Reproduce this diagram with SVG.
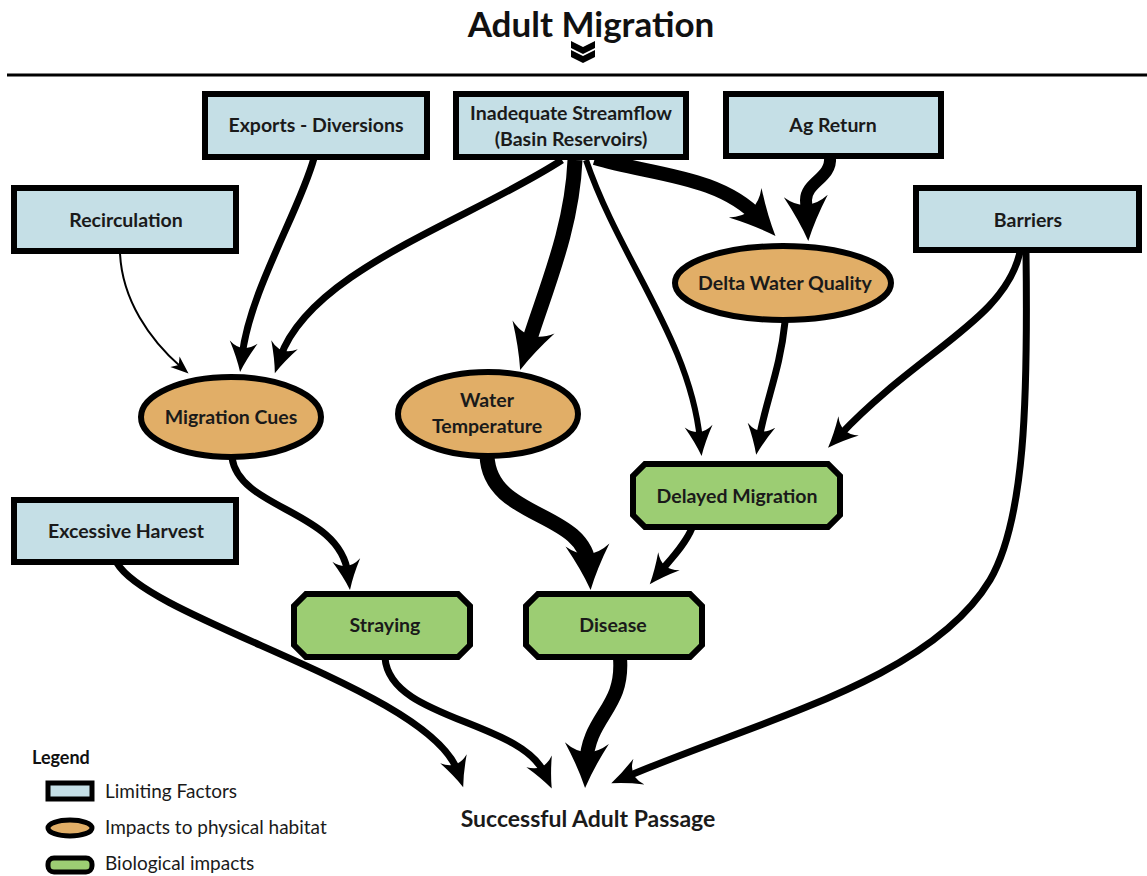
<svg xmlns="http://www.w3.org/2000/svg" width="1147" height="876" viewBox="0 0 1147 876">
<style>
.box{fill:#c5dfe6;stroke:#000;stroke-width:6}
.ell{fill:#e1ae67;stroke:#000;stroke-width:6}
.oct{fill:#9ccd73;stroke:#000;stroke-width:6;stroke-linejoin:miter}
.lbl{font-family:Lato,"Liberation Sans",sans-serif;font-weight:700;font-size:19.5px;fill:#1a1a1a;text-anchor:middle}
.leg{font-family:Lato,"Liberation Sans",sans-serif;font-size:19px;fill:#1a1a1a}
.c{fill:none;stroke:#000;stroke-linecap:butt}
.w2{stroke-width:2}
.w7{stroke-width:7}
.w14{stroke-width:14}
</style>
<defs>
<marker id="aS" markerUnits="userSpaceOnUse" markerWidth="30" markerHeight="30" refX="8" refY="0" orient="auto" overflow="visible">
<path d="M0,-7 L18,0 L0,7 L5,0 Z" fill="#000"/>
</marker>
<marker id="aM" markerUnits="userSpaceOnUse" markerWidth="40" markerHeight="40" refX="14" refY="0" orient="auto" overflow="visible">
<path d="M0,-14 Q16,-5 30,0 Q16,5 0,14 Q12,0 0,-14 Z" fill="#000"/>
</marker>
<marker id="aL" markerUnits="userSpaceOnUse" markerWidth="60" markerHeight="60" refX="22" refY="0" orient="auto" overflow="visible">
<path d="M0,-22 Q24,-8 45,0 Q24,8 0,22 Q18,0 0,-22 Z" fill="#000"/>
</marker>
</defs>
<rect width="1147" height="876" fill="#fff"/>

<g id="title">
<text x="591" y="37" font-family="Lato,'Liberation Sans',sans-serif" font-weight="700" font-size="35" fill="#111" text-anchor="middle">Adult Migration</text>
<path d="M571,41 L583,47 L595,41 L595,48 L583,54 L571,48 Z M571,50 L583,56 L595,50 L595,57 L583,63 L571,57 Z" fill="#000"/>
<line x1="7" y1="75" x2="1147" y2="75" stroke="#000" stroke-width="3"/>
</g>

<g id="connectors">
<path class="c w2" d="M120,253 C122,300 150,340 181,367" marker-end="url(#aS)"/>
<path class="c w7" d="M314,158 C300,210 250,290 242,356" marker-end="url(#aM)"/>
<path class="c w7" d="M562,160 C470,220 310,270 280,358" marker-end="url(#aM)"/>
<path class="c" stroke-width="15" d="M575,160 C572,230 545,290 527,348" marker-end="url(#aL)"/>
<path class="c" stroke-width="6" d="M586,160 C620,260 690,340 700,440" marker-end="url(#aM)"/>
<path class="c w14" d="M595,158 C650,175 720,175 760,219" marker-end="url(#aL)"/>
<path class="c" stroke-width="12" d="M830,157 C832,178 806,182 806,200 L807,218" marker-end="url(#aL)"/>
<path class="c w7" d="M785,322 C780,370 766,400 759,439" marker-end="url(#aM)"/>
<path class="c w7" d="M1020,252 C1005,320 920,350 839,436" marker-end="url(#aM)"/>
<path class="c w7" d="M1026,252 C1028,400 1025,520 990,580 C930,680 760,720 626,777" marker-end="url(#aM)"/>
<path class="c w7" d="M232,458 C240,510 340,510 348,574" marker-end="url(#aM)"/>
<path class="c" stroke-width="15" d="M487,456 C490,520 585,510 589,567" marker-end="url(#aL)"/>
<path class="c w7" d="M692,528 C685,545 670,560 660,572" marker-end="url(#aM)"/>
<path class="c w7" d="M117,563 C150,620 430,690 458,772" marker-end="url(#aM)"/>
<path class="c w7" d="M385,658 C390,720 520,720 545,774" marker-end="url(#aM)"/>
<path class="c w14" d="M620,658 C624,710 588,715 586,765" marker-end="url(#aL)"/>
</g>

<g id="exports"><rect class="box" x="205" y="94" width="222" height="63"/><text class="lbl" x="316" y="132">Exports - Diversions</text></g>
<g id="streamflow"><rect class="box" x="456" y="94" width="230" height="63"/><text class="lbl" x="571" y="120">Inadequate Streamflow</text><text class="lbl" x="571" y="146">(Basin Reservoirs)</text></g>
<g id="agreturn"><rect class="box" x="726" y="94" width="215" height="62"/><text class="lbl" x="833" y="132">Ag Return</text></g>
<g id="recirculation"><rect class="box" x="14" y="188" width="222" height="63"/><text class="lbl" x="126" y="227">Recirculation</text></g>
<g id="barriers"><rect class="box" x="916" y="188" width="223" height="62"/><text class="lbl" x="1028" y="227">Barriers</text></g>
<g id="harvest"><rect class="box" x="14" y="500" width="222" height="62"/><text class="lbl" x="126" y="538">Excessive Harvest</text></g>

<g id="deltawq"><ellipse class="ell" cx="783" cy="283" rx="108" ry="37"/><text class="lbl" x="785" y="290">Delta Water Quality</text></g>
<g id="migcues"><ellipse class="ell" cx="231" cy="417" rx="90" ry="40"/><text class="lbl" x="231" y="424">Migration Cues</text></g>
<g id="watertemp"><ellipse class="ell" cx="488" cy="414" rx="90" ry="42"/><text class="lbl" x="487" y="407">Water</text><text class="lbl" x="487" y="433">Temperature</text></g>

<g id="delayed"><polygon class="oct" points="645,464 828,464 840,476 840,515 828,527 645,527 633,515 633,476"/><text class="lbl" x="737" y="503">Delayed Migration</text></g>
<g id="straying"><polygon class="oct" points="306,594 458,594 470,606 470,645 458,657 306,657 294,645 294,606"/><text class="lbl" x="385" y="632">Straying</text></g>
<g id="disease"><polygon class="oct" points="538,594 690,594 702,606 702,645 690,657 538,657 526,645 526,606"/><text class="lbl" x="613" y="632">Disease</text></g>

<g id="passage"><text class="lbl" x="588" y="827" style="font-size:23px">Successful Adult Passage</text></g>

<g id="legend">
<text x="32" y="764" font-family="Lato,'Liberation Sans',sans-serif" font-weight="700" font-size="18" fill="#111">Legend</text>
<rect x="48" y="783" width="44" height="16" fill="#c5dfe6" stroke="#000" stroke-width="5"/>
<text class="leg" x="105" y="798">Limiting Factors</text>
<ellipse cx="70" cy="828" rx="22" ry="8" fill="#e1ae67" stroke="#000" stroke-width="5"/>
<text class="leg" x="105" y="834">Impacts to physical habitat</text>
<rect x="48" y="858" width="44" height="14" rx="6" fill="#9ccd73" stroke="#000" stroke-width="5"/>
<text class="leg" x="105" y="870">Biological impacts</text>
</g>
</svg>
